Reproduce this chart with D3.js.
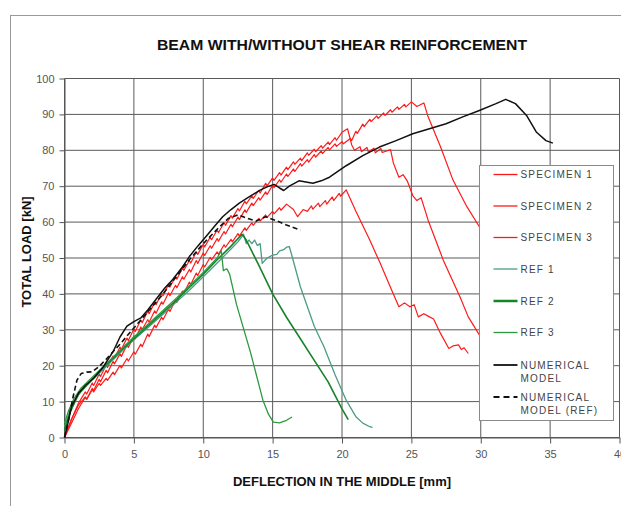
<!DOCTYPE html>
<html>
<head>
<meta charset="utf-8">
<script src="https://cdn.jsdelivr.net/npm/d3@7/dist/d3.min.js"></script>
<style>
    body { margin: 0; background: #fff; }
    svg { display: block; font-family: "Liberation Sans", Arial, sans-serif; }
</style>
</head>
<body>
<div id="chart"></div>
<script>
// Beam load-deflection chart

var xTicks = [0, 5, 10, 15, 20, 25, 30, 35, 40];
var yTicks = [0, 10, 20, 30, 40, 50, 60, 70, 80, 90, 100];

var seriesNames = ["SPECIMEN 1", "SPECIMEN 2", "SPECIMEN 3", "REF 1", "REF 2", "REF 3",
    "NUMERICAL MODEL", "NUMERICAL MODEL (REF)"];

// [deflection mm, load kN]
var specimen1 = [[0,0],[0.5,4],[1,8],[1.5,11.2],[1.6,10.6],[2,13.7],[2.1,13.1],[2.5,16.2],[2.6,15.5],[3,18.7],[3.1,18],[3.5,21.2],[3.6,20.5],[4,23.3],[4.1,22.6],[4.5,25.8],[4.6,25.1],[5,28.3],[5.1,27.5],[5.5,30.8],[5.6,30.1],[6,32.8],[6.1,32.1],[6.5,35.3],[6.6,34.6],[7,37.8],[7.1,37.1],[7.5,40.3],[7.6,39.5],[8,42.4],[8.1,41.7],[8.5,44.8],[8.6,44.1],[9,46.8],[9.1,46.1],[9.5,49.3],[9.6,48.5],[10,51.4],[10.1,50.7],[10.5,53.4],[10.6,52.7],[11,55.4],[11.1,54.7],[11.5,57.4],[11.6,56.7],[12,59.4],[12.1,58.7],[12.5,61.4],[12.6,60.7],[13,63.4],[13.1,62.7],[13.5,65.3],[13.6,64.6],[14,66.8],[14.1,66.1],[14.5,68.4],[14.6,67.7],[15,70.3],[15.1,69.6],[15.5,71.8],[15.6,71.1],[16,73.4],[16.1,72.7],[16.5,74.8],[16.6,74.1],[17,76.3],[17.1,75.6],[17.5,77.4],[17.6,76.7],[18,78.8],[18.1,78.1],[18.5,79.8],[18.6,79.1],[19,80.8],[19.1,80.1],[19.5,81.8],[19.6,81.1],[20,82.4],[20.1,81.8],[20.6,83.3],[20.7,82.7],[21,85.3],[21.1,84.7],[21.5,87.3],[21.6,86.6],[22,88.6],[22.1,88],[22.5,89.6],[22.6,88.9],[23,90.4],[23.1,89.7],[23.5,91.3],[23.6,90.6],[24,92.1],[24.1,91.4],[24.5,92.8],[24.6,92.1],[25,93.5],[25.4,92.2],[25.9,93.2],[26.2,89.4],[27.1,81],[28,71.7],[29,64.3],[29.9,58.7]];

var specimen2 = [[0,0],[0.5,5],[1,9.5],[1.5,12.7],[1.6,12.1],[2,15.2],[2.1,14.5],[2.5,17.7],[2.6,17],[3,20.2],[3.1,19.5],[3.5,22.7],[3.6,22],[4,25.2],[4.1,24.5],[4.5,27.7],[4.6,27],[5,30.2],[5.1,29.5],[5.5,32.7],[5.6,32],[6,35.2],[6.1,34.5],[6.5,37.7],[6.6,37],[7,40.2],[7.1,39.5],[7.5,42.7],[7.6,41.9],[8,44.8],[8.1,44.1],[8.5,47.2],[8.6,46.5],[9,49.3],[9.1,48.6],[9.5,51.7],[9.6,51],[10,53.8],[10.1,53.1],[10.5,55.8],[10.6,55.1],[11,57.8],[11.1,57.1],[11.5,59.8],[11.6,59.1],[12,61.8],[12.1,61.1],[12.5,63.8],[12.6,63.1],[13,65.8],[13.1,65.1],[13.5,67.3],[13.6,66.6],[14,68.8],[14.1,68.1],[14.5,70.8],[14.6,70.1],[15,72.3],[15.1,71.6],[15.5,73.8],[15.6,73.1],[16,75.3],[16.1,74.6],[16.5,76.8],[16.6,76.1],[17,77.8],[17.1,77.1],[17.5,79.3],[17.6,78.6],[18,80.3],[18.1,79.6],[18.5,81.3],[18.6,80.6],[19,82.3],[19.1,81.6],[19.5,83.5],[19.6,82.8],[20,85],[20.4,86],[20.7,81.5],[20.9,80],[21.3,81],[21.4,79.6],[21.8,80.8],[21.9,79.5],[22.3,80.6],[22.4,79.3],[22.8,80.5],[22.9,79.4],[23.5,80.2],[23.7,76.5],[24.1,72.5],[24.4,73.2],[24.7,71.5],[25.1,67.4],[25.4,66],[25.7,66.8],[26.2,60.6],[27.3,49.4],[28.5,39.2],[29.1,33.6],[29.9,28.6]];

var specimen3 = [[0,0],[0.5,5],[1,9],[1.5,11.3],[1.6,10.7],[2,13.3],[2.1,12.7],[2.5,15.1],[2.6,14.5],[3,16.5],[3.1,15.9],[3.5,18.2],[3.6,17.5],[4,20.1],[4.1,19.4],[4.5,22],[4.6,21.3],[5,23.9],[5.1,23.2],[5.5,26],[5.6,25.3],[6,28.8],[6.1,28.1],[6.5,31.3],[6.6,30.6],[7,33.5],[7.1,32.8],[7.5,35.8],[7.6,35.1],[8,38.3],[8.1,37.6],[8.5,40.8],[8.6,40.1],[9,43.3],[9.1,42.6],[9.5,45.8],[9.6,45.1],[10,48.2],[10.1,47.5],[10.5,50.2],[10.6,49.5],[11,51.7],[11.1,51],[11.5,53.7],[11.6,53],[12,55.2],[12.1,54.5],[12.5,56.8],[12.6,56.1],[13,58.4],[13.1,57.7],[13.5,59.8],[13.6,59.1],[14,61],[14.1,60.3],[14.5,62],[14.6,61.3],[15,63],[15.1,62.3],[15.5,64],[15.6,63.3],[16,65],[16.5,63.5],[16.8,61.5],[17.2,63.5],[17.5,63],[17.8,64.5],[17.9,63.6],[18.3,65.3],[18.4,64.3],[18.8,66],[18.9,65],[19.3,67],[19.4,66],[19.8,68],[19.9,67.2],[20.3,69],[21,63],[22,55],[22.7,49],[23.7,40],[24.1,36.4],[24.5,37.5],[24.9,36.4],[25.2,37],[25.5,33.6],[25.9,34.5],[26.3,33.6],[26.6,33],[27.1,29],[27.7,24.8],[28,25.5],[28.4,25.8],[28.6,24.5],[28.8,25],[29.1,23.4]];

var ref1 = [[0,3],[0.3,6.5],[0.7,10],[1.2,13],[2,16],[3,19.8],[4,23.5],[5,27.2],[6,30.6],[7,34],[8,37.5],[9,41],[10,44.8],[11,48.6],[12,52.5],[12.5,54.5],[12.9,56.6],[13.1,54],[13.3,55],[13.5,54],[13.7,55],[13.9,53.5],[14.1,54],[14.25,48.5],[14.6,50],[15,50.8],[15.3,51],[15.5,52],[15.8,52.3],[16,53],[16.2,53.2],[16.4,50.5],[17,42],[18,31],[18.7,25.3],[19.5,17.5],[20.3,10.4],[21,5.8],[21.5,4],[22,3],[22.2,2.8]];

var ref2 = [[0,2],[0.4,7],[1,12],[2,16.3],[3,20.2],[4,24],[5,27.5],[6,31],[7,34.5],[8,38],[9,41.8],[10,45.5],[11,49.5],[12,53.3],[12.8,56.6],[13.1,55],[14,48],[15,40],[16,33.5],[17,27.5],[18,21.5],[19,15.5],[20,8],[20.45,5]];

var ref3 = [[0,4],[0.3,7.5],[0.7,11],[1.2,13.8],[2,16.8],[3,20.5],[4,24.3],[5,28],[6,31.5],[7,35],[8,38.6],[9,42.3],[10,46],[11,50],[11.3,52],[11.45,46.5],[11.7,47],[11.9,45.5],[12.4,37],[13.4,23.8],[14.3,10.4],[14.7,6.5],[15.05,4.3],[15.5,4.1],[16,4.8],[16.4,5.7]];

var numModel = [[0,0],[0.25,4],[0.5,8.6],[1,12.3],[1.5,14.5],[2.1,16.5],[2.8,19.7],[3.5,23.9],[4,28],[4.5,31],[5,32.3],[5.5,33.3],[6,35.5],[6.6,38.5],[7.2,41.5],[7.8,44],[8.5,47.5],[9,50.4],[9.6,53.3],[10.2,56],[10.8,58.8],[11.4,61.5],[12,63.5],[12.6,65.3],[13.3,67],[14.1,68.9],[14.6,69.8],[15.1,70.5],[15.5,69.5],[15.8,68.8],[16.2,70],[16.9,71.5],[17.4,71.2],[17.9,70.8],[18.5,71.5],[19.1,72.5],[20.3,75.7],[21.5,78.5],[22.7,80.9],[23.9,82.7],[25.1,84.6],[26.3,86],[27.5,87.4],[28.7,89.3],[29.9,91.1],[31.1,93],[31.8,94.2],[32.5,93],[33.3,89.7],[34,85.1],[34.7,82.7],[35.2,82]];

var numModelRef = [[0,0],[0.3,5],[0.6,11],[0.9,16],[1.2,17.8],[1.6,18.2],[2,18.3],[2.5,19.8],[3,21.8],[4,26],[5,30.5],[6,35],[7,39.5],[8,44.5],[9,49.5],[10,54],[11,58],[11.8,61],[12.5,62],[13.2,61],[13.8,60.3],[14.5,61.5],[15.2,60.5],[16,59.2],[17,57.8]];

var seriesData = [specimen1, specimen2, specimen3, ref1, ref2, ref3, numModel, numModelRef];

// line styles per series
var seriesStyle = [
    { color: "#ff1a1a", width: 1.2, dash: null },
    { color: "#ff1a1a", width: 1.2, dash: null },
    { color: "#ff1a1a", width: 1.2, dash: null },
    { color: "#4a9c86", width: 1.3, dash: null },
    { color: "#16842a", width: 1.6, dash: null },
    { color: "#2c9a3c", width: 1.3, dash: null },
    { color: "#111111", width: 1.5, dash: null },
    { color: "#111111", width: 1.6, dash: "5,3" }
];

var width = 621, height = 506;
var plot = { left: 64.5, right: 619.5, top: 78.5, bottom: 437.5 };

var svg = d3.select("#chart")
    .append("svg")
    .attr("width", width)
    .attr("height", height);

// outer frame
svg.append("rect")
    .attr("x", 10.5)
    .attr("y", 15.5)
    .attr("width", 640)
    .attr("height", 520)
    .attr("fill", "none")
    .attr("stroke", "#9a9a9a")
    .attr("stroke-width", 1);

var x = d3.scaleLinear().domain([0, 40]).range([plot.left, plot.right]);
var y = d3.scaleLinear().domain([0, 100]).range([plot.bottom, plot.top]);

// grid
var grid = svg.append("g").attr("stroke", "#5a5a5a").attr("stroke-width", 1);
grid.selectAll("line.v")
    .data(xTicks)
    .enter()
    .append("line")
    .attr("x1", d => x(d)).attr("x2", d => x(d))
    .attr("y1", plot.top).attr("y2", plot.bottom);
grid.selectAll("line.h")
    .data(yTicks)
    .enter()
    .append("line")
    .attr("x1", plot.left).attr("x2", plot.right)
    .attr("y1", d => y(d)).attr("y2", d => y(d));

// axes
var xAxis = svg.append("g")
    .attr("transform", `translate(0,${plot.bottom})`)
    .call(d3.axisBottom(x).tickValues(xTicks).tickSize(6).tickSizeOuter(0).tickPadding(7));
var yAxis = svg.append("g")
    .attr("transform", `translate(${plot.left},0)`)
    .call(d3.axisLeft(y).tickValues(yTicks).tickSize(5).tickSizeOuter(0).tickPadding(5));

[xAxis, yAxis].forEach(a => {
    a.select(".domain").attr("stroke", "#555");
    a.selectAll(".tick line").attr("stroke", "#555");
    a.selectAll(".tick text")
        .attr("fill", "#555")
        .style("font-size", "11px")
        .style("font-family", "\"Liberation Sans\", Arial, sans-serif");
});

// series lines
var line = d3.line()
    .x(d => x(d[0]))
    .y(d => y(d[1]));

svg.append("g")
    .selectAll("path")
    .data(seriesData)
    .enter()
    .append("path")
    .attr("d", d => line(d))
    .attr("fill", "none")
    .attr("stroke", (d, i) => seriesStyle[i].color)
    .attr("stroke-width", (d, i) => seriesStyle[i].width)
    .attr("stroke-dasharray", (d, i) => seriesStyle[i].dash)
    .attr("stroke-linejoin", "round");

// titles
svg.append("text")
    .attr("x", (plot.left + plot.right) / 2)
    .attr("y", 50)
    .attr("text-anchor", "middle")
    .attr("textLength", 370)
    .attr("lengthAdjust", "spacingAndGlyphs")
    .style("font-size", "15px")
    .style("font-weight", "bold")
    .attr("fill", "#111")
    .text("BEAM WITH/WITHOUT SHEAR REINFORCEMENT");

svg.append("text")
    .attr("x", (plot.left + plot.right) / 2)
    .attr("y", 486)
    .attr("text-anchor", "middle")
    .style("font-size", "13px")
    .style("font-weight", "bold")
    .attr("fill", "#111")
    .text("DEFLECTION IN THE MIDDLE [mm]");

svg.append("text")
    .attr("transform", "translate(31,252) rotate(-90)")
    .attr("text-anchor", "middle")
    .style("font-size", "13px")
    .style("font-weight", "bold")
    .attr("fill", "#111")
    .text("TOTAL LOAD [kN]");

// legend
var legend = svg.append("g").attr("transform", "translate(479.5,165.5)");
legend.append("rect")
    .attr("width", 134)
    .attr("height", 255)
    .attr("fill", "#fff")
    .attr("stroke", "#8a8a8a");

var legendRows = [9, 40.5, 72, 103.5, 135.5, 167, 199.5, 231.5];

var items = legend.selectAll("g.item")
    .data(seriesNames)
    .enter()
    .append("g")
    .attr("class", "item")
    .attr("transform", (d, i) => `translate(0,${legendRows[i]})`);

items.append("line")
    .attr("x1", 14).attr("x2", 38)
    .attr("y1", 0).attr("y2", 0)
    .attr("stroke", (d, i) => seriesStyle[i].color)
    .attr("stroke-width", (d, i) => i == 4 ? 2.5 : (i >= 6 ? 1.8 : 1.3))
    .attr("stroke-dasharray", (d, i) => i == 7 ? "6,4" : null);

items.each(function(d){
    var words = d.indexOf("NUMERICAL") == 0 ? ["NUMERICAL", d.replace("NUMERICAL ", "")] : [d];
    var t = d3.select(this).append("text")
        .attr("x", 41)
        .attr("y", 3.5)
        .attr("fill", "#444")
        .style("font-size", "10px")
        .style("letter-spacing", "1.2px");
    words.forEach((w, k) => {
        t.append("tspan").attr("x", 41).attr("dy", k == 0 ? 0 : 13.5).text(w);
    });
});
</script>
</body>
</html>
